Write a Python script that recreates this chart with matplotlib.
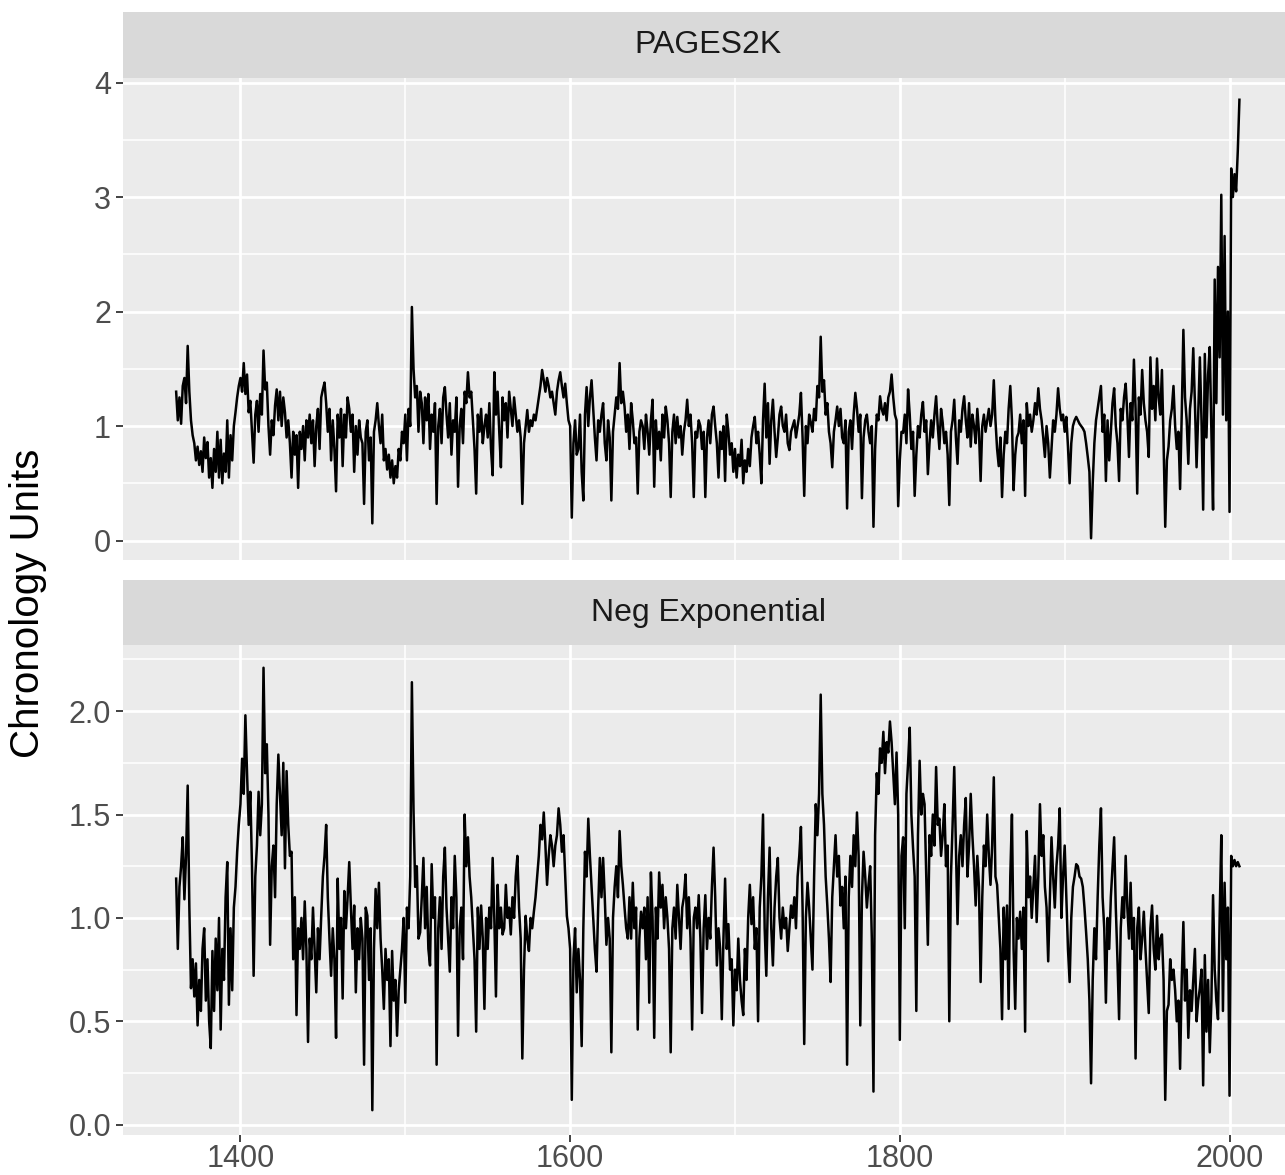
import numpy as np
import matplotlib.pyplot as plt
from matplotlib.ticker import MultipleLocator, FormatStrFormatter

plt.rcParams['font.family'] = ['Liberation Sans', 'DejaVu Sans']

start_year = 1361

# PAGES2K chronology, one value per year from 1361
pages2k = [
    1.30, 1.05, 1.25, 1.02, 1.35, 1.42, 1.20, 1.70, 1.30,
    1.05, 0.92, 0.85, 0.70, 0.82, 0.66, 0.78, 0.60, 0.90, 0.72,
    0.86, 0.55, 0.72, 0.46, 0.80, 0.60, 0.95, 0.55, 0.88, 0.50,
    0.76, 0.60, 1.05, 0.55, 0.92, 0.70, 1.00, 1.12, 1.25, 1.35,
    1.42, 1.30, 1.55, 1.28, 1.45, 1.12, 1.22, 0.95, 0.68, 1.10,
    1.22, 0.95, 1.28, 1.10, 1.66, 1.32, 1.38, 1.00, 0.75, 1.05,
    0.92, 1.18, 1.32, 1.05, 1.30, 1.00, 1.25, 1.12, 0.90, 1.05,
    0.85, 0.55, 0.95, 0.75, 0.92, 0.46, 0.95, 0.80, 1.00, 0.70,
    1.05, 0.90, 1.10, 0.85, 1.05, 0.65, 1.00, 1.15, 0.80, 1.25,
    1.32, 1.38, 1.20, 0.95, 1.15, 0.70, 1.05, 0.80, 0.43, 1.10,
    0.90, 1.15, 0.65, 1.10, 0.90, 1.25, 1.15, 0.95, 1.10, 0.60,
    1.00, 0.75, 1.05, 0.90, 0.85, 0.32, 0.95, 1.05, 0.70, 0.90,
    0.15, 0.95, 1.05, 1.20, 1.00, 0.85, 1.10, 0.70, 0.80, 0.62,
    0.75, 0.55, 0.70, 0.50, 0.65, 0.55, 0.80, 0.70, 0.95, 0.85,
    1.10, 0.70, 1.15, 1.00, 2.04, 1.50, 1.25, 1.35, 0.95, 1.30,
    1.20, 0.85, 1.25, 1.05, 1.28, 0.80, 1.10, 0.95, 1.20, 0.32,
    1.00, 1.15, 0.85, 1.25, 1.34, 1.10, 0.90, 1.20, 0.75, 1.05,
    0.95, 1.25, 0.47, 1.00, 1.15, 0.85, 1.30, 1.20, 1.47, 1.25,
    1.30, 1.05, 0.80, 0.41, 1.10, 0.95, 1.15, 0.85, 1.00, 1.10,
    0.90, 1.20, 0.80, 0.57, 1.47, 1.10, 1.30, 0.95, 0.64, 1.25,
    1.05, 1.20, 0.90, 1.30, 1.15, 1.00, 1.25, 1.10, 0.95, 1.05,
    0.90, 0.32, 0.85, 1.00, 1.14, 0.95, 1.05, 1.00, 1.10, 1.05,
    1.15, 1.25, 1.35, 1.49, 1.40, 1.30, 1.42, 1.35, 1.25, 1.30,
    1.20, 1.10, 1.30, 1.40, 1.47, 1.35, 1.25, 1.37, 1.20, 1.05,
    1.00, 0.20, 0.85, 1.05, 0.75, 0.80, 1.10, 0.60, 0.35, 1.10,
    1.34, 1.00, 1.25, 1.40, 1.15, 0.90, 0.70, 1.05, 0.95, 1.10,
    1.20, 0.85, 0.70, 1.05, 0.90, 0.35, 0.95, 1.10, 1.25, 1.15,
    1.55, 1.20, 1.30, 1.17, 0.95, 1.10, 0.80, 1.20, 1.05, 0.85,
    0.90, 0.41, 0.95, 1.05, 1.00, 0.80, 1.10, 0.95, 0.75, 1.05,
    1.23, 0.47, 1.05, 0.80, 0.95, 0.70, 1.10, 0.90, 1.17, 1.05,
    0.85, 0.38, 0.95, 1.10, 0.85, 1.08, 0.90, 1.00, 0.75, 0.95,
    1.05, 1.23, 1.00, 1.10, 0.85, 0.38, 0.95, 0.90, 1.05, 1.00,
    0.80, 0.95, 0.38, 0.90, 1.05, 0.85, 1.10, 1.17, 1.00, 0.85,
    0.55, 0.95, 0.80, 1.00, 0.52, 1.10, 0.95, 0.75, 0.85, 0.60,
    0.80, 0.55, 0.75, 0.65, 0.88, 0.50, 0.70, 0.60, 0.80, 0.65,
    0.90, 1.00, 1.08, 0.85, 0.95, 0.75, 0.50, 1.05, 1.37, 0.90,
    1.20, 0.67, 1.05, 1.23, 0.95, 0.73, 0.90, 1.10, 1.17, 1.00,
    0.95, 1.10, 0.85, 0.79, 0.95, 1.00, 1.05, 0.90, 1.00, 1.10,
    1.29, 0.90, 0.39, 1.00, 0.85, 1.10, 1.03, 0.95, 1.15, 1.05,
    1.35, 1.25, 1.78, 1.30, 1.40, 1.10, 1.20, 0.95, 0.85, 0.64,
    0.95, 1.05, 1.17, 1.00, 1.15, 0.90, 0.85, 1.05, 0.28, 0.95,
    1.05, 0.80, 1.10, 1.29, 1.15, 0.95, 1.10, 0.37, 0.90, 1.05,
    1.10, 0.95, 0.85, 1.00, 0.12, 0.80, 1.10, 1.05, 1.26, 1.15,
    1.10, 1.20, 1.05, 1.25, 1.30, 1.45, 1.25, 1.10, 1.05, 0.30,
    0.70, 0.95, 0.94, 1.10, 0.85, 1.32, 1.10, 0.80, 0.95, 0.39,
    0.75, 1.00, 0.90, 1.10, 1.21, 0.95, 1.05, 0.58, 0.85, 1.05,
    0.90, 1.10, 1.26, 1.00, 0.80, 1.15, 1.03, 0.85, 0.95, 0.75,
    0.31, 0.95, 1.05, 1.23, 0.90, 0.67, 1.05, 0.95, 1.15, 1.26,
    1.05, 0.90, 1.20, 0.82, 1.10, 1.00, 0.85, 1.15, 0.95, 0.52,
    1.00, 1.10, 0.95, 1.05, 1.15, 1.00, 1.10, 1.40, 1.05, 0.80,
    0.65, 0.90, 0.38, 0.75, 0.95, 0.85, 1.15, 1.35, 1.05, 0.44,
    0.75, 0.90, 0.94, 1.10, 0.85, 1.05, 0.39, 1.20, 1.00, 1.10,
    0.95, 1.05, 1.20, 1.10, 1.33, 1.15, 1.05, 0.90, 0.73, 1.00,
    0.85, 0.55, 0.80, 1.05, 0.95, 1.10, 1.33, 1.15, 1.05, 1.10,
    0.95, 1.08, 0.82, 0.50, 0.85, 1.00, 1.05, 1.08, 1.05, 1.02,
    1.00, 0.98, 0.95, 0.85, 0.73, 0.60, 0.02, 0.50, 0.85, 1.05,
    1.15, 1.25, 1.35, 0.95, 1.10, 0.52, 1.05, 0.70, 0.95, 1.20,
    1.33, 1.00, 0.85, 0.52, 1.15, 1.05, 1.25, 1.37, 1.10, 0.73,
    1.20, 1.05, 1.58, 1.15, 0.41, 1.25, 1.10, 1.49, 1.20, 1.05,
    0.95, 0.73, 1.60, 1.15, 1.35, 1.05, 1.59, 1.25, 1.10, 1.49,
    0.85, 0.12, 0.70, 0.82, 1.05, 1.15, 1.35, 1.00, 0.80, 0.95,
    0.45, 1.10, 1.84, 1.25, 1.05, 0.67, 1.15, 1.30, 1.68, 1.20,
    0.64, 1.10, 1.60, 1.05, 0.27, 1.63, 0.90, 1.45, 1.69, 0.95,
    0.27, 2.28, 1.20, 2.39, 1.60, 3.02, 1.10, 2.66, 1.05, 2.00,
    0.25, 3.25, 3.00, 3.20, 3.05, 3.40, 3.85,
]

# negative exponential detrended chronology, same years
neg_exp = [
    1.19, 0.85, 1.15, 1.25, 1.39, 1.09, 1.30, 1.64, 1.05,
    0.66, 0.80, 0.62, 0.78, 0.48, 0.70, 0.55, 0.85, 0.95, 0.60,
    0.80, 0.50, 0.37, 0.84, 0.55, 0.90, 0.65, 1.00, 0.46, 0.85,
    0.70, 1.10, 1.27, 0.58, 0.95, 0.65, 1.05, 1.15, 1.32, 1.45,
    1.55, 1.77, 1.60, 1.98, 1.70, 1.45, 1.61, 1.25, 0.72, 1.20,
    1.35, 1.61, 1.40, 1.55, 2.21, 1.70, 1.84, 1.50, 0.87, 1.25,
    1.35, 1.10, 1.55, 1.79, 1.60, 1.40, 1.75, 1.24, 1.71, 1.45,
    1.30, 1.32, 0.80, 1.10, 0.53, 0.95, 0.85, 1.00, 0.80, 1.08,
    0.85, 0.40, 0.90, 0.80, 1.05, 0.85, 0.64, 0.95, 0.80, 1.01,
    1.20, 1.30, 1.45, 1.10, 0.90, 0.72, 0.95, 0.80, 0.42, 1.19,
    0.85, 1.00, 0.61, 1.13, 0.95, 1.10, 1.27, 1.05, 0.85, 1.06,
    0.64, 0.95, 0.80, 1.00, 0.90, 0.29, 1.05, 1.01, 0.70, 0.95,
    0.07, 0.85, 1.14, 0.95, 1.17, 0.90, 0.75, 0.56, 0.85, 0.70,
    0.80, 0.38, 0.84, 0.60, 0.70, 0.43, 0.65, 0.75, 0.85, 1.00,
    0.59, 1.05, 0.95, 1.20, 2.14, 1.52, 1.15, 1.25, 0.90, 0.93,
    1.10, 1.29, 0.95, 1.15, 0.85, 0.77, 1.26, 1.00, 1.10, 0.29,
    0.95, 1.10, 0.85, 1.20, 1.34, 1.05, 0.90, 0.74, 1.10, 0.95,
    1.30, 1.10, 0.43, 0.95, 1.05, 0.80, 1.50, 1.25, 1.39, 1.20,
    1.10, 0.95, 0.80, 0.45, 1.05, 0.85, 1.06, 0.90, 0.56, 1.00,
    0.85, 1.05, 0.95, 1.29, 1.00, 0.62, 1.16, 0.95, 1.05, 0.92,
    0.95, 1.16, 1.00, 1.05, 0.92, 1.10, 1.00, 1.20, 1.30, 1.05,
    0.90, 0.32, 0.75, 1.01, 0.90, 0.84, 1.00, 0.95, 1.03, 1.10,
    1.20, 1.30, 1.45, 1.38, 1.51, 1.35, 1.16, 1.30, 1.40, 1.35,
    1.25, 1.35, 1.40, 1.53, 1.45, 1.32, 1.40, 1.20, 1.01, 0.95,
    0.85, 0.12, 0.80, 0.95, 0.64, 0.85, 0.70, 0.38, 0.95, 1.32,
    1.20, 1.48, 1.30, 1.15, 1.00, 0.85, 0.74, 1.05, 1.29, 1.10,
    1.29, 1.10, 0.87, 1.00, 0.90, 0.35, 1.00, 1.15, 1.25, 1.10,
    1.42, 1.25, 1.16, 1.05, 0.95, 0.90, 1.10, 0.90, 1.17, 0.95,
    1.05, 0.46, 0.90, 1.03, 0.95, 1.05, 0.80, 1.10, 0.59, 1.22,
    1.00, 0.42, 1.05, 0.90, 1.22, 1.05, 1.16, 0.95, 1.10, 1.00,
    0.85, 0.35, 0.95, 1.05, 0.90, 1.16, 1.00, 0.85, 1.05, 1.10,
    1.21, 0.95, 1.10, 0.90, 0.46, 1.00, 1.05, 0.95, 1.11, 0.90,
    0.54, 0.95, 1.11, 0.85, 1.00, 0.90, 1.15, 1.34, 1.10, 0.77,
    0.95, 0.85, 0.51, 0.90, 1.19, 0.85, 0.97, 0.75, 0.80, 0.48,
    0.75, 0.65, 0.90, 0.70, 0.60, 0.53, 0.85, 0.70, 1.00, 1.16,
    0.97, 1.10, 0.85, 0.95, 0.50, 1.05, 1.20, 1.50, 0.95, 0.72,
    1.10, 1.34, 0.95, 0.77, 1.05, 1.20, 1.29, 1.00, 0.90, 1.05,
    0.95, 1.00, 0.84, 0.95, 1.06, 1.00, 1.10, 0.95, 1.20, 1.30,
    1.44, 1.05, 0.39, 1.00, 1.17, 1.05, 0.90, 0.75, 1.20, 1.55,
    1.40, 1.60, 2.08, 1.60, 1.45, 1.20, 1.06, 0.90, 0.69, 1.10,
    1.25, 1.40, 1.20, 1.30, 1.06, 1.15, 0.95, 1.20, 0.29, 1.10,
    1.30, 1.15, 1.40, 1.25, 1.51, 1.30, 0.48, 1.10, 1.32, 1.20,
    1.05, 1.16, 1.25, 0.90, 0.16, 1.40, 1.70, 1.60, 1.82, 1.75,
    1.90, 1.70, 1.85, 1.80, 1.95, 1.85, 1.70, 1.55, 1.80, 1.50,
    0.41, 1.30, 1.39, 0.95, 1.60, 1.75, 1.92, 1.50, 1.34, 1.20,
    0.55, 1.40, 1.76, 1.50, 1.60, 1.55, 1.20, 0.87, 1.40, 1.30,
    1.50, 1.35, 1.73, 1.45, 1.48, 1.30, 1.40, 1.55, 1.25, 1.35,
    0.50, 1.20, 1.45, 1.73, 1.35, 0.97, 1.30, 1.40, 1.25, 1.45,
    1.58, 1.20, 1.35, 1.60, 1.40, 1.25, 1.06, 1.30, 1.15, 0.69,
    1.10, 1.35, 1.25, 1.50, 1.30, 1.16, 1.35, 1.68, 1.20, 1.16,
    1.00, 0.85, 0.51, 1.05, 0.80, 1.06, 0.56, 1.20, 1.50, 0.85,
    0.56, 1.00, 0.90, 1.03, 0.85, 1.05, 0.45, 1.42, 1.10, 1.20,
    1.00, 1.15, 1.30, 0.98, 1.20, 1.55, 1.30, 1.40, 1.15, 1.05,
    0.79, 1.10, 1.39, 1.20, 1.05, 1.25, 1.35, 1.53, 1.00, 1.20,
    1.35, 1.10, 0.85, 0.69, 1.00, 1.15, 1.20, 1.26, 1.25, 1.20,
    1.19, 1.15, 1.05, 0.93, 0.80, 0.60, 0.20, 0.70, 0.95, 0.80,
    1.10, 1.35, 1.53, 1.10, 0.95, 0.59, 1.00, 0.85, 1.10, 1.25,
    1.39, 1.05, 0.80, 0.51, 0.95, 1.10, 1.00, 1.30, 1.05, 0.90,
    1.17, 0.85, 1.00, 0.32, 0.95, 1.05, 0.80, 0.90, 1.03, 0.85,
    0.70, 0.54, 0.95, 1.06, 0.85, 0.75, 1.01, 0.80, 0.90, 0.92,
    0.70, 0.12, 0.55, 0.58, 0.80, 0.70, 0.75, 0.65, 0.50, 0.60,
    0.27, 0.70, 0.98, 0.60, 0.75, 0.42, 0.65, 0.55, 0.70, 0.85,
    0.50, 0.60, 0.66, 0.75, 0.19, 0.82, 0.45, 0.70, 0.35, 0.60,
    1.11, 0.75, 0.60, 0.51, 1.00, 1.40, 0.55, 1.17, 0.80, 1.05,
    0.14, 1.30, 1.25, 1.28, 1.25, 1.27, 1.25,
]

years = np.arange(start_year, start_year + len(pages2k))

W, H = 1285, 1175
fig = plt.figure(figsize=(W / 100, H / 100), dpi=100)

left_px, right_px = 123.4, 1293.0


def box(top_px, bottom_px):
    return [left_px / W, 1 - bottom_px / H, (right_px - left_px) / W,
            (bottom_px - top_px) / H]


facets = [
    # title, values, strip rows, panel rows, ylim, major, minor, label format
    ("PAGES2K", pages2k, (12, 78), (78, 560), (-0.17, 4.04), 1.0, 0.5, "%d"),
    ("Neg Exponential", neg_exp, (580, 645), (645, 1135), (-0.05, 2.32), 0.5, 0.25, "%.1f"),
]

for i, (title, vals, strip, panel, ylim, major, minor, fmt) in enumerate(facets):
    sax = fig.add_axes(box(*strip))
    sax.set_facecolor("#D9D9D9")
    sax.set_xticks([])
    sax.set_yticks([])
    for s in sax.spines.values():
        s.set_visible(False)
    sax.text(0.5, 0.5, title, transform=sax.transAxes, ha="center",
             va="center", fontsize=23, color="#1A1A1A")

    ax = fig.add_axes(box(*panel))
    ax.set_facecolor("#EBEBEB")
    ax.plot(years, vals, color="black", lw=1.8, zorder=3)
    ax.set_xlim(1329, 2038.5)
    ax.set_ylim(*ylim)

    ax.xaxis.set_major_locator(MultipleLocator(200))
    ax.xaxis.set_minor_locator(MultipleLocator(100))
    ax.yaxis.set_major_locator(MultipleLocator(major))
    ax.yaxis.set_minor_locator(MultipleLocator(minor))
    ax.yaxis.set_major_formatter(FormatStrFormatter(fmt))

    ax.grid(which="major", color="white", lw=2.0)
    ax.grid(which="minor", color="white", lw=1.1)
    ax.set_axisbelow(True)
    for s in ax.spines.values():
        s.set_visible(False)

    ax.tick_params(which="major", length=5, width=1.3, color="#333333",
                   labelsize=22, labelcolor="#4D4D4D", pad=4)
    ax.tick_params(axis="x", which="major", pad=1.5)
    ax.tick_params(which="minor", length=0)
    if i == 0:
        ax.tick_params(axis="x", which="both", bottom=False, labelbottom=False)

fig.text(28 / W, 1 - 603 / H, "Chronology Units", rotation=90,
         ha="center", va="center", fontsize=29, color="black")

fig.savefig("out.png", dpi=100)
